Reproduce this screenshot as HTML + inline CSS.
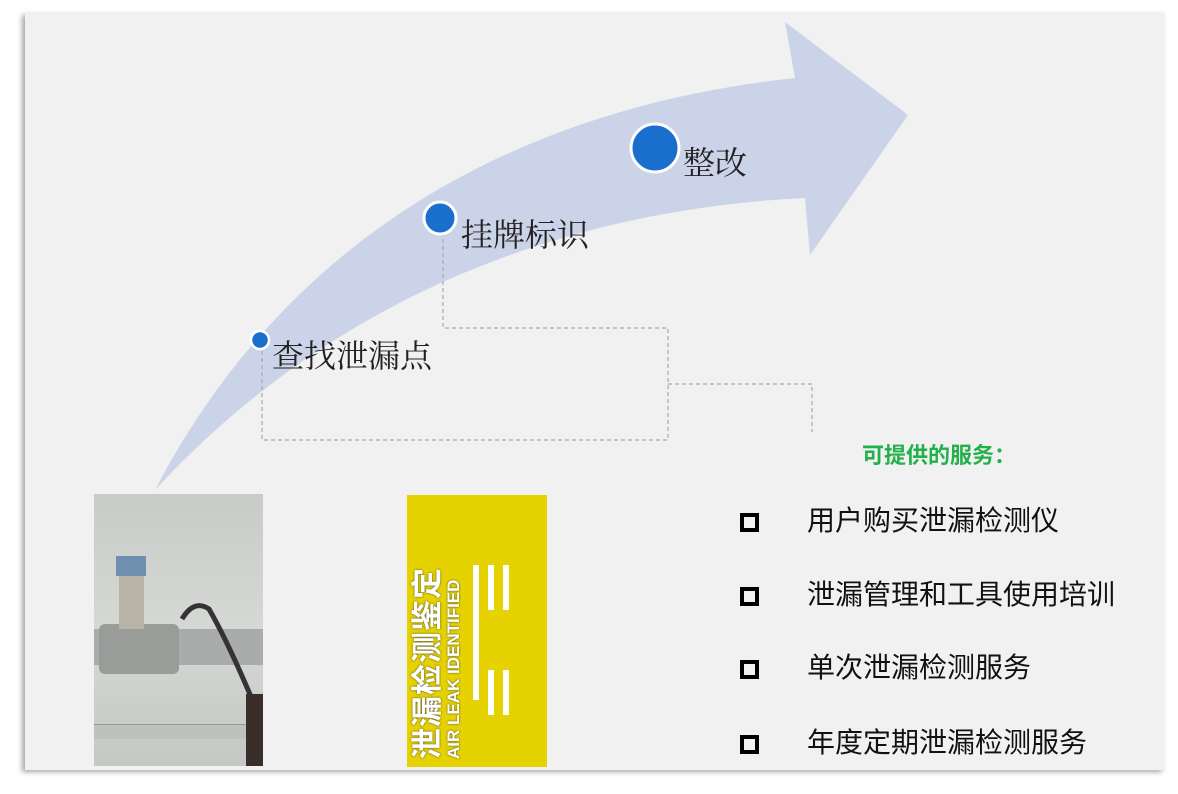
<!DOCTYPE html>
<html><head><meta charset="utf-8"><style>
body{margin:0;width:1178px;height:794px;background:#fff;position:relative;overflow:hidden;font-family:"Liberation Sans","Noto Sans CJK SC",sans-serif}
.panel{position:absolute;left:25px;top:13px;width:1140px;height:757px;background:#f1f1f1;box-shadow:-3px 2px 5px rgba(0,0,0,0.35)}
.lab{position:absolute;font-family:"Liberation Serif","Noto Serif CJK SC",serif;font-size:32px;color:#222;line-height:1;white-space:nowrap}
.item{position:absolute;left:807px;font-size:28px;color:#111;line-height:1;white-space:nowrap}
.sq{position:absolute;left:740px;width:11px;height:11px;border:4px solid #000}
</style></head><body>
<div class="panel"></div>
<svg width="1178" height="794" style="position:absolute;left:0;top:0">
<path d="M155,490 C280,250 500,110 795,78 L785,22 L908,115 L810,255 L805,198 C560,210 330,300 155,490 Z" fill="#cbd3e9"/>
<g fill="none" stroke="#aaa" stroke-width="1.2" stroke-dasharray="4,3">
<path d="M443,232 V328 H668 V440 H262 V346"/>
<path d="M668,384 H812 V432"/>
</g>
<circle cx="655" cy="148" r="24" fill="#1a6fce" stroke="#fff" stroke-width="3"/>
<circle cx="440" cy="218" r="16" fill="#1a6fce" stroke="#fff" stroke-width="3"/>
<circle cx="260" cy="340" r="9" fill="#1a6fce" stroke="#fff" stroke-width="2.5"/>
</svg>
<div class="lab" style="left:683px;top:147px">整改</div>
<div class="lab" style="left:461px;top:219px">挂牌标识</div>
<div class="lab" style="left:272px;top:340px">查找泄漏点</div>
<div style="position:absolute;left:862px;top:438px;font-size:22px;font-weight:bold;color:#22b04b;white-space:nowrap">可提供的服务：</div>
<div class="sq" style="top:513px"></div><div class="item" style="top:507px">用户购买泄漏检测仪</div>
<div class="sq" style="top:587px"></div><div class="item" style="top:581px">泄漏管理和工具使用培训</div>
<div class="sq" style="top:660px"></div><div class="item" style="top:654px">单次泄漏检测服务</div>
<div class="sq" style="top:735px"></div><div class="item" style="top:729px">年度定期泄漏检测服务</div>
<!-- photo -->
<div style="position:absolute;left:94px;top:494px;width:169px;height:272px;background:linear-gradient(#c9cbc8,#d6d8d5 50%,#c5c7c4);overflow:hidden">
<div style="position:absolute;left:0;top:135px;width:169px;height:36px;background:#a9acab"></div>
<div style="position:absolute;left:5px;top:130px;width:80px;height:50px;background:#9a9c9a;border-radius:6px"></div>
<div style="position:absolute;left:25px;top:75px;width:25px;height:60px;background:#b8b5a8"></div>
<div style="position:absolute;left:22px;top:62px;width:30px;height:20px;background:#6f8fae"></div>
<div style="position:absolute;left:0;top:230px;width:169px;height:14px;background:#bfc1bf;border-top:1px solid #999"></div>
<svg width="169" height="272" style="position:absolute;left:0;top:0"><path d="M88,125 Q100,105 115,115 Q135,150 160,210" stroke="#333" stroke-width="5" fill="none"/><rect x="152" y="200" width="17" height="72" fill="#3a2e2a"/></svg>
</div>
<!-- yellow sign -->
<div style="position:absolute;left:407px;top:495px;width:140px;height:272px;background:#e6d200;overflow:hidden">
<div style="position:absolute;left:4px;top:264px;width:195px;transform-origin:0 0;transform:rotate(-90deg);color:#fff;font-weight:bold;white-space:nowrap;text-shadow:0 0 2px #444">
<div style="font-size:31px;line-height:34px;letter-spacing:1px">泄漏检测鉴定</div>
<div style="font-size:17px;line-height:17px;font-family:'Liberation Sans Narrow','Liberation Sans',sans-serif">AIR LEAK IDENTIFIED</div>
</div>
<div style="position:absolute;left:66px;top:70px;width:6px;height:135px;background:#fff"></div>
<div style="position:absolute;left:81px;top:70px;width:6px;height:45px;background:#fff"></div>
<div style="position:absolute;left:96px;top:70px;width:6px;height:45px;background:#fff"></div>
<div style="position:absolute;left:81px;top:175px;width:6px;height:45px;background:#fff"></div>
<div style="position:absolute;left:96px;top:175px;width:6px;height:45px;background:#fff"></div>
</div>
</body></html>
